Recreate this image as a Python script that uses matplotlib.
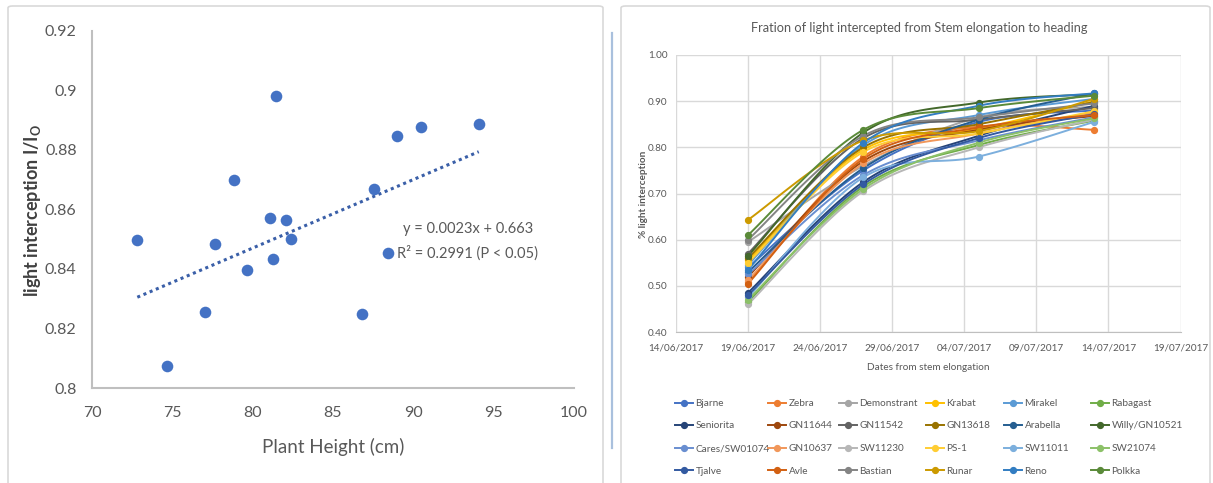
import numpy as np
import matplotlib
matplotlib.use("Agg")
import matplotlib.pyplot as plt
import matplotlib.dates as mdates
from matplotlib import font_manager
from matplotlib.lines import Line2D
from matplotlib.patches import FancyBboxPatch
from datetime import date


def first_font(candidates):
    for fam in candidates:
        try:
            font_manager.findfont(font_manager.FontProperties(family=fam),
                                  fallback_to_default=False)
            return fam
        except Exception:
            continue
    return 'DejaVu Sans'


BASE_FONT = first_font(['Liberation Sans Narrow', 'DejaVu Sans Condensed', 'Lato',
                        'Liberation Sans'])
plt.rcParams['font.family'] = [BASE_FONT, 'DejaVu Sans']
plt.rcParams['mathtext.fontset'] = 'custom'
plt.rcParams['mathtext.rm'] = BASE_FONT
plt.rcParams['mathtext.bf'] = BASE_FONT + ':bold'

# ---- Left panel: plant height vs light interception ----
plant_height = [72.82, 74.69, 77.03, 77.68, 78.83, 79.62, 81.05, 81.24, 81.46,
                82.10, 82.39, 86.82, 87.58, 88.42, 88.97, 90.45, 94.07]
light_intercept = [0.8498, 0.8074, 0.8255, 0.8485, 0.8697, 0.8396, 0.8572, 0.8434,
                   0.8982, 0.8565, 0.8502, 0.8247, 0.8668, 0.8453, 0.8846, 0.8876,
                   0.8887]
trend_slope = 0.0023
trend_intercept = 0.663
r_squared = 0.2991
height_ticks = [70, 75, 80, 85, 90, 95, 100]
interception_ticks = [0.8, 0.82, 0.84, 0.86, 0.88, 0.9, 0.92]
interception_tick_labels = ['0.8', '0.82', '0.84', '0.86', '0.88', '0.9', '0.92']

# ---- Right panel: fraction of light intercepted per variety ----
obs_dates = [date(2017, 6, 19), date(2017, 6, 27), date(2017, 7, 5), date(2017, 7, 13)]
varieties = ['Bjarne', 'Zebra', 'Demonstrant', 'Krabat', 'Mirakel', 'Rabagast',
             'Seniorita', 'GN11644', 'GN11542', 'GN13618', 'Arabella', 'Willy/GN10521',
             'Cares/SW01074', 'GN10637', 'SW11230', 'PS-1', 'SW11011', 'SW21074',
             'Tjalve', 'Avle', 'Bastian', 'Runar', 'Reno', 'Polkka']
variety_colors = ['#4472C4', '#ED7D31', '#A5A5A5', '#FFC000', '#5B9BD5', '#70AD47',
                  '#264478', '#9E480E', '#636363', '#997300', '#255E91', '#43682B',
                  '#698ED0', '#F1975A', '#B7B7B7', '#FFCD33', '#7CAFDD', '#8CC168',
                  '#335AA1', '#D26012', '#848484', '#CC9A00', '#327DC2', '#5A8A39']
interception = [
    [0.540, 0.750, 0.855, 0.880],   # Bjarne
    [0.508, 0.780, 0.845, 0.838],   # Zebra
    [0.595, 0.760, 0.865, 0.888],   # Demonstrant
    [0.555, 0.795, 0.840, 0.900],   # Krabat
    [0.545, 0.805, 0.870, 0.905],   # Mirakel
    [0.465, 0.715, 0.805, 0.858],   # Rabagast
    [0.485, 0.725, 0.825, 0.890],   # Seniorita
    [0.520, 0.770, 0.838, 0.868],   # GN11644
    [0.570, 0.820, 0.860, 0.885],   # GN11542
    [0.560, 0.800, 0.850, 0.898],   # GN13618
    [0.530, 0.755, 0.860, 0.917],   # Arabella
    [0.565, 0.832, 0.897, 0.915],   # Willy/GN10521
    [0.525, 0.740, 0.815, 0.865],   # Cares/SW01074
    [0.512, 0.765, 0.830, 0.875],   # GN10637
    [0.460, 0.705, 0.800, 0.860],   # SW11230
    [0.550, 0.790, 0.830, 0.878],   # PS-1
    [0.475, 0.735, 0.780, 0.855],   # SW11011
    [0.470, 0.710, 0.810, 0.863],   # SW21074
    [0.480, 0.720, 0.820, 0.872],   # Tjalve
    [0.505, 0.775, 0.843, 0.870],   # Avle
    [0.600, 0.825, 0.865, 0.895],   # Bastian
    [0.643, 0.815, 0.835, 0.905],   # Runar
    [0.535, 0.810, 0.890, 0.917],   # Reno
    [0.610, 0.838, 0.885, 0.912],   # Polkka
]
date_ticks = [date(2017, 6, 14), date(2017, 6, 19), date(2017, 6, 24), date(2017, 6, 29),
              date(2017, 7, 4), date(2017, 7, 9), date(2017, 7, 14), date(2017, 7, 19)]
fraction_ticks = [0.40, 0.50, 0.60, 0.70, 0.80, 0.90, 1.00]

TEXT = '#595959'
AXIS = '#BFBFBF'
GRID = '#D9D9D9'


def smooth_curve(xs, ys, n=40):
    """Cubic Bezier smoothing through every point (Catmull-Rom tangents)."""
    pts = np.column_stack([xs, ys]).astype(float)
    out = []
    t = np.linspace(0, 1, n)[:, None]
    for i in range(len(pts) - 1):
        p0 = pts[i - 1] if i > 0 else pts[i]
        p1, p2 = pts[i], pts[i + 1]
        p3 = pts[i + 2] if i + 2 < len(pts) else pts[i + 1]
        c1 = p1 + (p2 - p0) / 6.0
        c2 = p2 - (p3 - p1) / 6.0
        seg = (1 - t) ** 3 * p1 + 3 * (1 - t) ** 2 * t * c1 + 3 * (1 - t) * t ** 2 * c2 + t ** 3 * p2
        out.append(seg if i == 0 else seg[1:])
    res = np.vstack(out)
    return res[:, 0], res[:, 1]


fig = plt.figure(figsize=(12.13, 4.83), dpi=100)
fig.patch.set_facecolor('white')
W, H = 1213.0, 483.0


def fx(px):
    return px / W


def fy(py):
    return 1 - py / H


# panel frames and the divider between them
for x0, y0, x1, y1 in [(8, 6, 603, 490), (621, 6, 1210, 490)]:
    fig.patches.append(FancyBboxPatch((fx(x0), fy(y1)), (x1 - x0) / W, (y1 - y0) / H,
                                      boxstyle='round,pad=0,rounding_size=0.004',
                                      transform=fig.transFigure, fill=False,
                                      edgecolor='#D9D9D9', linewidth=1.2))
fig.lines.append(Line2D([fx(612), fx(612)], [fy(33), fy(448)],
                        transform=fig.transFigure, color='#A9C0DD', linewidth=1.6))

# ---------------- left scatter ----------------
ax1 = fig.add_axes([fx(92), fy(388), (574 - 92) / W, (388 - 30.7) / H])
ax1.scatter(plant_height, light_intercept, s=70, color='#4472C4', zorder=3, linewidths=0)
xt = np.array([min(plant_height), max(plant_height)])
ax1.plot(xt, trend_slope * xt + trend_intercept, linestyle=(0, (1, 1.2)),
         color='#3A5FA8', linewidth=2.2, zorder=2)
ax1.set_xlim(70, 100)
ax1.set_ylim(0.8, 0.92)
ax1.set_xticks(height_ticks)
ax1.set_yticks(interception_ticks)
ax1.set_yticklabels(interception_tick_labels)
ax1.tick_params(length=0, labelsize=11.5, colors=TEXT)
ax1.tick_params(axis='x', pad=13)
ax1.tick_params(axis='y', pad=11)
for s in ['top', 'right']:
    ax1.spines[s].set_visible(False)
for s in ['left', 'bottom']:
    ax1.spines[s].set_color(AXIS)
    ax1.spines[s].set_linewidth(1.5)
fig.text(fx(333), fy(447), 'Plant Height (cm)', fontsize=13.5, color=TEXT,
         ha='center', va='center')
fig.text(fx(33), fy(210), r'light interception I/I$_{\mathbf{O}}$', fontsize=13,
         color='#404040', fontweight='bold', rotation=90, ha='center', va='center')
ax1.text(93.4, 0.8535, 'y = {:.4f}x + {:.3f}'.format(trend_slope, trend_intercept),
         ha='center', va='center', fontsize=10.5, color=TEXT)
ax1.text(93.4, 0.8452, 'R\u00b2 = {:.4f} (P < 0.05)'.format(r_squared),
         ha='center', va='center', fontsize=10.5, color=TEXT)
ax1.patch.set_alpha(0)

# ---------------- right line chart ----------------
ax2 = fig.add_axes([fx(676), fy(332), (1180.5 - 676) / W, (332 - 55) / H])
xnum = mdates.date2num(obs_dates)
handles = []
for name, col, vals in zip(varieties, variety_colors, interception):
    sx, sy = smooth_curve(xnum, vals)
    ax2.plot(sx, sy, color=col, linewidth=1.4, solid_capstyle='round', zorder=3)
    ax2.plot(xnum, vals, linestyle='none', marker='o', markersize=4.2, color=col, zorder=4)
    handles.append(Line2D([], [], color=col, linewidth=1.4, marker='o', markersize=4.2))

ax2.set_xlim(mdates.date2num(date_ticks[0]), mdates.date2num(date_ticks[-1]))
ax2.set_ylim(0.40, 1.00)
ax2.set_xticks(mdates.date2num(date_ticks))
ax2.set_xticklabels([d.strftime('%d/%m/%Y') for d in date_ticks])
ax2.set_yticks(fraction_ticks)
ax2.set_yticklabels(['{:.2f}'.format(v) for v in fraction_ticks])
ax2.grid(True, color=GRID, linewidth=1.0)
ax2.set_axisbelow(True)
ax2.tick_params(length=0, labelsize=7.2, colors=TEXT)
ax2.tick_params(axis='x', pad=8)
ax2.tick_params(axis='y', pad=6)
for s in ['top', 'right', 'left']:
    ax2.spines[s].set_visible(False)
ax2.spines['bottom'].set_color(AXIS)
fig.text(fx(919), fy(28), 'Fration of light intercepted from Stem elongation to heading',
         fontsize=9.2, color=TEXT, ha='center', va='center')
fig.text(fx(928), fy(367), 'Dates from stem elongation', fontsize=7.2, color=TEXT,
         ha='center', va='center')
fig.text(fx(643), fy(194), '% light interception', fontsize=7.2, color=TEXT,
         fontweight='bold', rotation=90, ha='center', va='center')

# legend: 6 columns x 4 rows, filled row by row
col_x = [675, 768, 839, 926, 1004, 1091]
for c, xpix in enumerate(col_x):
    idx = [r * 6 + c for r in range(4)]
    fig.legend([handles[i] for i in idx], [varieties[i] for i in idx],
               loc='upper left', bbox_to_anchor=(fx(xpix), fy(399)),
               frameon=False, fontsize=7.2, labelcolor=TEXT,
               handlelength=1.8, handletextpad=0.25, borderpad=0,
               borderaxespad=0, labelspacing=1.35)

fig.savefig('out.png', dpi=100, facecolor='white')
